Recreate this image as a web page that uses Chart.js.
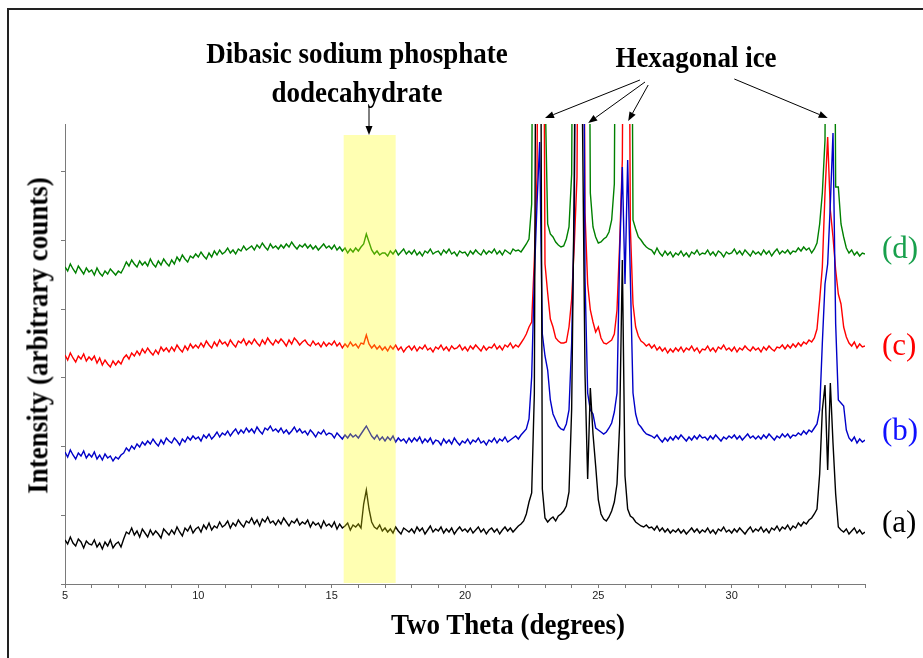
<!DOCTYPE html>
<html lang="en">
<head>
    <meta charset="UTF-8">
    <title>XRD patterns</title>
    <script src="https://cdn.jsdelivr.net/npm/chart.js"></script>
    <style>
        body {
            margin: 0;
            padding: 0;
            background: #fff;
        }
        #wrap {
            position: relative;
            width: 923px;
            height: 658px;
            overflow: hidden;
        }
        #frame {
            position: absolute;
            left: 7px;
            top: 8px;
            width: 1000px;
            height: 1000px;
            border: 2px solid #222;
        }
        #chartContainer {
            position: absolute;
            left: 0;
            top: 0;
            width: 923px;
            height: 658px;
        }
        .txt {
            position: absolute;
            font-family: "Liberation Serif", "Times New Roman", serif;
            white-space: nowrap;
            color: #000;
        }
        .bold {
            font-weight: bold;
            font-size: 27px;
            transform: scaleY(1.12);
        }
        .tag {
            font-size: 31px;
            line-height: 34px;
        }
    </style>
</head>
<body>
<div id="wrap">
    <div id="frame"></div>
    <div id="chartContainer">
        <canvas id="xrdChart"></canvas>
    </div>
    <div class="txt bold" style="left:157px; top:38px; width:400px; text-align:center; line-height:35px;">Dibasic sodium phosphate<br>dodecahydrate</div>
    <div class="txt bold" style="left:596px; top:40px; width:200px; text-align:center; line-height:35px;">Hexagonal ice</div>
    <div class="txt bold" style="left:358px; top:607px; width:300px; text-align:center; line-height:35px;">Two Theta (degrees)</div>
    <div class="txt bold" style="left:-162px; top:318px; width:400px; text-align:center; line-height:35px; transform:rotate(-90deg) scaleY(1.12);">Intensity (arbitrary counts)</div>
    <div class="txt tag" style="left:882px; top:231px; color:#18a04c;">(d)</div>
    <div class="txt tag" style="left:882px; top:328px; color:#ff0000;">(c)</div>
    <div class="txt tag" style="left:882px; top:413px; color:#1010ff;">(b)</div>
    <div class="txt tag" style="left:882px; top:505px; color:#000;">(a)</div>
</div>
<script>
    // scan grid: 5 to 35 degrees two theta, 0.1 degree steps
    const thetaStart = 5;
    const thetaStep = 0.1;
    const thetaCount = 301;
    const twoTheta = [];
    for (let i = 0; i < thetaCount; i++) {
        twoTheta.push(+(thetaStart + i * thetaStep).toFixed(1));
    }

    const xTickLabels = [5, 10, 15, 20, 25, 30];
    const seriesNames = ['(a)', '(b)', '(c)', '(d)'];

    // intensities (arbitrary counts, traces already offset), one row = one degree
    const intensityA = [
        44, 40, 47, 41, 38, 45, 42, 36, 43, 40,
        39, 44, 37, 41, 35, 42, 38, 44, 36, 40,
        42, 37, 45, 52, 50, 56, 49, 53, 47, 55,
        51, 47, 54, 49, 53, 50, 46, 55, 52, 49,
        54, 50, 57, 52, 48, 56, 53, 58, 51, 55,
        57, 52, 59, 55, 61, 54, 58, 56, 62, 57,
        59, 63, 56, 61, 58, 64, 60, 57, 63, 61,
        66, 60, 64, 58, 65, 62, 67, 61, 63, 59,
        64, 60, 66, 62, 58, 63, 61, 65, 59, 62,
        60, 64, 57, 62, 59, 61, 56, 63, 58, 60,
        57, 62, 55, 60, 56, 58, 61, 54, 59, 57,
        60, 56, 80, 94, 75, 62, 57, 55, 59, 53,
        56, 52, 55, 51, 57, 53, 50, 56, 54, 52,
        55, 51, 57, 53, 56, 50, 54, 58, 52, 55,
        53, 57, 51, 55, 52, 56, 50, 54, 57, 53,
        55, 52, 56, 51, 54, 57, 52, 55, 50, 54,
        56, 52, 55, 50, 54, 57, 53, 56, 52, 55,
        58, 60, 63, 70, 82, 91, 190, 900, 900, 95,
        66, 62, 65, 67, 63, 68, 70, 73, 78, 92,
        175, 410, 900, 900, 480, 210, 105, 196, 150, 118,
        84, 70, 65, 63, 67, 73, 82, 100, 160, 324,
        108, 75, 68, 66, 62, 60, 58, 57, 59, 56,
        57, 54, 58, 53, 56, 52, 55, 51, 54, 52,
        55, 51, 54, 50, 53, 56, 52, 55, 51, 54,
        52, 56, 51, 54, 50, 55, 53, 57, 52, 54,
        51, 55, 52, 56, 53, 50, 54, 57, 52, 55,
        53, 57, 52, 55, 51, 56, 54, 58, 53, 57,
        55, 59, 54, 58, 56, 61, 58, 62, 60, 64,
        66, 70, 75, 110, 174, 199, 114, 201, 141, 90,
        57, 54, 52, 55, 50, 53, 56, 51, 54, 50,
        52
    ];
    const intensityB = [
        132, 127, 134, 129, 125, 131, 128, 133, 126, 130,
        127, 132, 125, 129, 124, 130, 126, 128, 123, 127,
        125, 129, 131, 136, 133, 138, 135, 140, 137, 142,
        139, 143, 140, 145, 141, 138, 144, 140, 146, 143,
        141, 146, 143, 139, 145, 142, 147, 144, 148, 145,
        147, 143, 149, 146, 150, 145, 148, 152, 147, 151,
        149, 153, 148, 152, 155, 150, 154, 151, 156, 152,
        155, 151, 157, 153, 150, 156, 154, 158, 153, 155,
        152, 156, 151, 154, 150, 153, 157, 152, 155, 151,
        153, 149, 154, 151, 147, 152, 150, 154, 149, 151,
        150, 146, 151, 148, 145, 149, 146, 150, 147, 149,
        146, 150, 154, 158, 153, 148, 145, 149, 144, 147,
        143, 147, 144, 148, 142, 146, 143, 145, 141, 146,
        142, 146, 143, 147, 141, 145, 142, 146, 140, 144,
        143, 139, 145, 141, 144, 140, 146, 142, 139, 143,
        141, 145, 140, 144, 142, 146, 141, 143, 139, 144,
        142, 146, 141, 145, 143, 147, 142, 144, 146, 148,
        145, 149, 152, 155, 165, 207, 307, 380, 442, 250,
        228, 214, 184, 170, 164, 158, 155, 154, 160, 174,
        241, 374, 900, 900, 900, 307, 191, 174, 170, 156,
        154, 152, 150, 152, 156, 161, 172, 191, 330, 417,
        300, 424, 307, 191, 170, 160, 157, 153, 150, 149,
        148, 146, 149, 145, 142, 146, 143, 147, 144, 148,
        145, 149, 146, 143, 147, 144, 148, 145, 149, 146,
        147, 144, 148, 145, 149, 146, 143, 147, 145, 148,
        146, 149, 145, 148, 144, 147, 150, 146, 148, 145,
        148, 145, 149, 146, 150, 147, 144, 148, 146, 150,
        147, 150, 146, 149, 148, 151, 149, 153, 150, 154,
        152, 156, 160, 174, 241, 300, 320, 380, 451, 260,
        184, 181, 178, 154, 146, 143, 147, 141, 145, 142,
        144
    ];
    const intensityC = [
        229, 224, 231, 226, 222, 228, 225, 230, 223, 227,
        224, 228, 221, 226, 219, 224, 220, 217, 223, 219,
        223, 220, 226, 229, 225, 231, 228, 233, 229, 235,
        231, 236, 232, 229, 234, 230, 237, 233, 236, 232,
        237, 233, 239, 235, 232, 238, 234, 240, 236, 239,
        236, 241, 237, 243, 239, 236, 242, 238, 244, 240,
        242, 238, 244, 240, 237, 243, 241, 245, 239, 243,
        240, 245, 241, 238, 244, 240, 246, 242, 239, 244,
        241, 245, 242, 238, 244, 240, 246, 243, 239, 242,
        244, 240, 238, 243, 239, 241, 237, 242, 238, 241,
        239, 243, 238, 241, 236, 240, 237, 242, 238, 240,
        236, 241, 240, 249, 240, 236, 239, 235, 238, 234,
        237, 233, 238, 235, 239, 234, 237, 232, 236, 238,
        234, 238, 233, 237, 235, 239, 234, 236, 232, 237,
        235, 239, 234, 237, 233, 238, 235, 236, 239, 234,
        237, 233, 238, 235, 239, 236, 233, 238, 234, 237,
        236, 240, 235, 238, 234, 239, 237, 241, 236, 239,
        237, 241, 245, 250, 257, 262, 324, 407, 900, 900,
        320, 291, 265, 257, 246, 243, 241, 241, 242, 257,
        285, 340, 407, 900, 900, 371, 300, 274, 262, 252,
        257, 246, 241, 240, 242, 244, 250, 274, 341, 424,
        900, 900, 357, 280, 257, 248, 243, 241, 238, 240,
        236, 239, 234, 237, 233, 236, 231, 235, 232, 236,
        233, 237, 232, 236, 234, 238, 233, 236, 231, 235,
        234, 238, 233, 236, 232, 237, 235, 239, 234, 236,
        233, 237, 232, 236, 234, 238, 235, 233, 237, 234,
        236, 232, 237, 234, 238, 235, 233, 237, 236, 239,
        235, 239, 236, 240, 237, 241, 238, 242, 240, 244,
        242, 246, 255, 284, 317, 391, 447, 374, 347, 314,
        290, 280, 257, 247, 241, 238, 242, 236, 240, 237,
        238
    ];
    const intensityD = [
        317, 313, 320, 315, 311, 318, 314, 310, 316, 312,
        314, 309, 316, 311, 308, 313, 310, 315, 312, 309,
        313, 311, 316, 322, 318, 324, 320, 317, 323, 319,
        322, 318, 325, 320, 317, 323, 319, 325, 321, 318,
        324, 320, 327, 323, 329, 325, 322, 328, 326, 330,
        327, 332, 328, 325, 331, 327, 333, 329, 334, 330,
        332, 336, 331, 334, 330, 335, 333, 338, 334, 336,
        338, 334, 339, 336, 341, 337, 334, 340, 336, 338,
        335, 339, 336, 340, 337, 342, 338, 335, 339, 337,
        340, 336, 339, 335, 338, 334, 337, 340, 336, 338,
        335, 339, 334, 337, 333, 336, 331, 335, 332, 336,
        333, 337, 340, 350, 342, 334, 330, 333, 329, 331,
        331, 328, 333, 330, 334, 329, 332, 335, 330, 333,
        330, 334, 329, 332, 328, 333, 331, 335, 330, 332,
        333, 329, 334, 331, 335, 330, 332, 328, 333, 331,
        332, 328, 333, 330, 334, 331, 329, 334, 330, 333,
        331, 335, 330, 333, 329, 334, 332, 330, 335, 333,
        334, 332, 336, 340, 345, 380, 900, 900, 900, 900,
        500, 360, 350, 347, 342, 339, 337, 338, 345, 357,
        410, 900, 900, 900, 900, 900, 900, 391, 357, 347,
        341, 342, 345, 347, 352, 364, 400, 900, 900, 900,
        900, 900, 900, 364, 355, 347, 344, 340, 337, 335,
        334, 330, 336, 331, 328, 333, 329, 332, 327, 331,
        329, 333, 328, 331, 327, 332, 330, 334, 329, 331,
        330, 334, 329, 332, 328, 333, 331, 327, 332, 330,
        331, 335, 330, 333, 329, 334, 331, 328, 333, 330,
        332, 329, 334, 330, 333, 328, 332, 335, 330, 333,
        331, 334, 330, 333, 332, 336, 333, 337, 334, 336,
        331, 335, 341, 360, 391, 444, 900, 900, 900, 397,
        397, 360, 347, 336, 331, 334, 329, 332, 328, 331,
        330
    ];

    // highlighted region and annotation arrows, in data units
    const bandFrom = 15.45;
    const bandTo = 17.4;
    const bandTop = 449;
    const arrows = [
        { from: [16.4, 476], to: [16.4, 449] },
        { from: [26.56, 504], to: [23.0, 466] },
        { from: [26.75, 502], to: [24.62, 461] },
        { from: [26.87, 499], to: [26.12, 463] },
        { from: [30.1, 505], to: [33.6, 466] }
    ];

    function toPoints(values) {
        return twoTheta.map((t, i) => ({ x: t, y: values[i] }));
    }

    const annotationPlugin = {
        id: 'annotations',
        afterDatasetsDraw(chart) {
            const { ctx, chartArea } = chart;
            const xs = chart.scales.x;
            const ys = chart.scales.y;
            ctx.save();
            // translucent yellow band over the traces
            const x0 = xs.getPixelForValue(bandFrom);
            const x1 = xs.getPixelForValue(bandTo);
            const yt = ys.getPixelForValue(bandTop);
            ctx.fillStyle = 'rgba(255, 255, 0, 0.3)';
            ctx.fillRect(x0, yt, x1 - x0, chartArea.bottom - 1 - yt);

            // arrows
            ctx.strokeStyle = '#000';
            ctx.fillStyle = '#000';
            ctx.lineWidth = 1;
            arrows.forEach(a => {
                const ax = xs.getPixelForValue(a.from[0]);
                const ay = ys.getPixelForValue(a.from[1]);
                const bx = xs.getPixelForValue(a.to[0]);
                const by = ys.getPixelForValue(a.to[1]);
                const ang = Math.atan2(by - ay, bx - ax);
                const len = 9, half = 3.5;
                const hx = bx - len * Math.cos(ang);
                const hy = by - len * Math.sin(ang);
                ctx.beginPath();
                ctx.moveTo(ax, ay);
                ctx.lineTo(hx, hy);
                ctx.stroke();
                ctx.beginPath();
                ctx.moveTo(bx, by);
                ctx.lineTo(hx + half * Math.sin(ang), hy - half * Math.cos(ang));
                ctx.lineTo(hx - half * Math.sin(ang), hy + half * Math.cos(ang));
                ctx.closePath();
                ctx.fill();
            });
            ctx.restore();
        }
    };

    const lineStyle = {
        pointRadius: 0,
        borderWidth: 1.4,
        tension: 0,
        fill: false
    };

    const ctx = document.getElementById('xrdChart').getContext('2d');
    const chart = new Chart(ctx, {
        type: 'line',
        data: {
            datasets: [
                Object.assign({ label: seriesNames[0], data: toPoints(intensityA), borderColor: '#000000' }, lineStyle),
                Object.assign({ label: seriesNames[1], data: toPoints(intensityB), borderColor: '#0000c8' }, lineStyle),
                Object.assign({ label: seriesNames[2], data: toPoints(intensityC), borderColor: '#ff0000' }, lineStyle),
                Object.assign({ label: seriesNames[3], data: toPoints(intensityD), borderColor: '#008000' }, lineStyle)
            ]
        },
        options: {
            responsive: true,
            maintainAspectRatio: false,
            animation: false,
            layout: {
                padding: { left: 0, top: 124, right: 58, bottom: 0 }
            },
            plugins: {
                legend: { display: false },
                tooltip: { enabled: false }
            },
            scales: {
                x: {
                    type: 'linear',
                    min: 5,
                    max: 35,
                    afterFit(scale) { scale.height = 74; },
                    border: { color: '#7a7a7a', width: 1 },
                    grid: { drawOnChartArea: false, tickLength: 4, color: '#7a7a7a' },
                    ticks: {
                        stepSize: 1,
                        autoSkip: false,
                        maxRotation: 0,
                        padding: 1,
                        color: '#222',
                        font: { family: 'Liberation Sans, Arial, sans-serif', size: 11 },
                        callback: v => xTickLabels.includes(v) ? String(v) : ''
                    }
                },
                y: {
                    min: 0,
                    max: 460,
                    afterFit(scale) { scale.width = 65; },
                    border: { color: '#7a7a7a', width: 1 },
                    grid: { drawOnChartArea: false, tickLength: 4, color: '#7a7a7a' },
                    ticks: {
                        stepSize: 68.7,
                        includeBounds: false,
                        callback: () => ''
                    }
                }
            }
        },
        plugins: [annotationPlugin]
    });
</script>
</body>
</html>
